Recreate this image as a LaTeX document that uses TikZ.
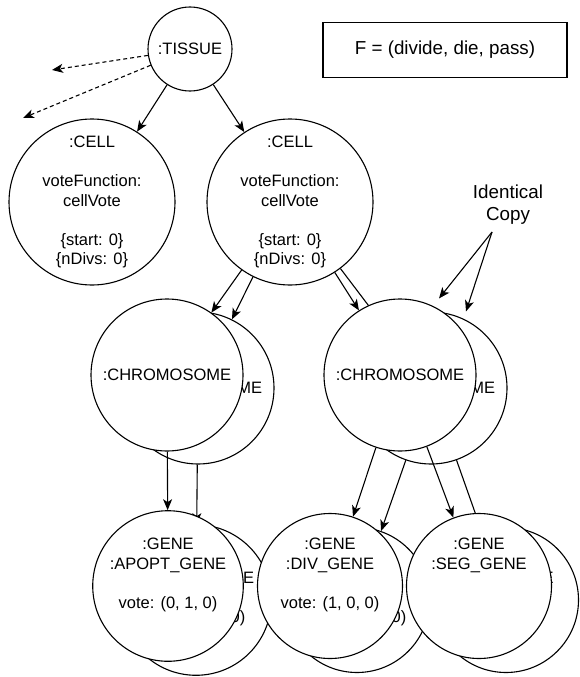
\documentclass[tikz,border=0pt]{standalone}
\usepackage{fontspec}
\setmainfont{Liberation Sans}
\usetikzlibrary{arrows.meta}

\begin{document}
\begin{tikzpicture}[
  x=1pt, y=-1pt,
  instance/.style={draw, circle, fill=white, line width=1.1pt, inner sep=0pt, align=center, font=\fontsize{16.5}{19.5}\selectfont},
  cellobj/.style={instance, minimum size=166pt},
  chromobj/.style={instance, minimum size=152pt},
  geneobj/.style={instance, minimum size=145pt},
  note/.style={draw, line width=1.1pt, minimum width=244pt, minimum height=55pt, font=\fontsize{18.8}{22}\selectfont},
  label/.style={align=center, font=\fontsize{18.8}{22}\selectfont},
  link/.style={-{Stealth[length=11pt, width=9pt, inset=3pt]}, line width=1.1pt},
  spawn/.style={link, dash pattern=on 4pt off 3pt},
]
\useasboundingbox (0,0) rectangle (579,677);
\node[instance, minimum size=84pt] (tissue) at (190,49) {:TISSUE};
\node[note] (rule) at (445,50) {F = (divide, die, pass)};
\node[cellobj] (cellL) at (92,202) {:CELL\\[19.5pt]voteFunction:\\cellVote\\[19.5pt]\{start: 0\}\\\{nDivs: 0\}};
\node[cellobj] (cellR) at (290,202) {:CELL\\[19.5pt]voteFunction:\\cellVote\\[19.5pt]\{start: 0\}\\\{nDivs: 0\}};
\draw[link] (tissue) -- (cellL);
\draw[link] (tissue) -- (cellR);
% offspring not shown
\coordinate (lostA) at (52,70);
\coordinate (lostB) at (23,118);
\draw[spawn] (tissue) -- (lostA);
\draw[spawn] (tissue) -- (lostB);
\foreach \p [count=\i] in {(25,299),(40,312),(67,310),(80,327)} {
  \coordinate (kid\i) at \p;
  \draw[spawn] (cellL) -- (kid\i);
}
% chromosomes, copy behind
\node[chromobj] (chromLb) at (198,388) {:CHROMOSOME};
\draw[link] (cellR) -- (chromLb);
\node[chromobj] (chromL) at (167,375) {:CHROMOSOME};
\draw[link] (cellR) -- (chromL);
\node[chromobj] (chromRb) at (431,388) {:CHROMOSOME};
\draw[link] (cellR) -- (chromRb);
\node[chromobj] (chromR) at (400,375) {:CHROMOSOME};
\draw[link] (cellR) -- (chromR);
% genes
\node[geneobj] (apoptb) at (196,600) {:GENE\\:APOPT\_GENE\\[19.5pt]vote: (0, 1, 0)\\\strut};
\draw[link] (chromLb) -- (apoptb);
\node[geneobj] (apopt) at (168,586) {:GENE\\:APOPT\_GENE\\[19.5pt]vote: (0, 1, 0)\\\strut};
\draw[link] (chromL) -- (apopt);
\node[geneobj] (divb) at (357,600) {:GENE\\:DIV\_GENE\\[19.5pt]vote: (1, 0, 0)\\\strut};
\draw[link] (chromRb) -- (divb);
\node[geneobj] (div) at (330,586) {:GENE\\:DIV\_GENE\\[19.5pt]vote: (1, 0, 0)\\\strut};
\draw[link] (chromR) -- (div);
\node[geneobj] (segb) at (506,600) {:GENE\\:SEG\_GENE\\[39pt]\strut};
\draw[link] (chromRb) -- (segb);
\node[geneobj] (seg) at (479,586) {:GENE\\:SEG\_GENE\\[39pt]\strut};
\draw[link] (chromR) -- (seg);
% Legend
\node[label] (copy) at (508,205) {Identical\\Copy};
\coordinate (copyTip) at (492,232);
\draw[link] (copyTip) -- ([xshift=39pt]chromR.north);
\draw[link] (copyTip) -- ([xshift=35pt]chromRb.north);
\end{tikzpicture}
\end{document}
